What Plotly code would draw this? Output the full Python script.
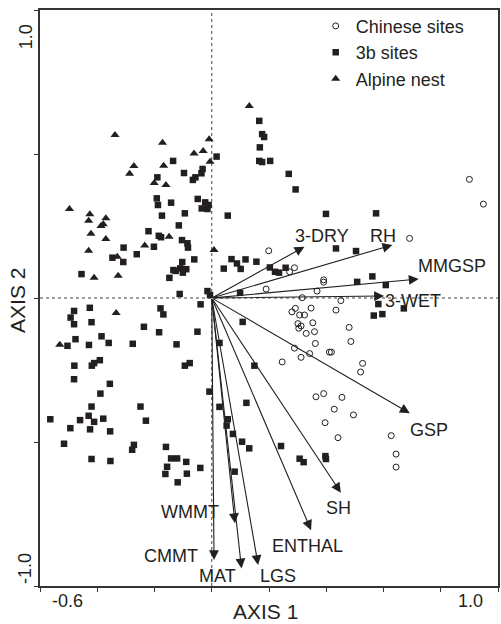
import plotly.graph_objects as go

# ---------------- data (ordination scores) ----------------
chinese_x = [0.949, 0.900, 0.691, 0.199, 0.289, 0.272, 0.391, 0.391, 0.190, 0.368,
             0.316, 0.451, 0.292, 0.280, 0.347, 0.434, 0.307, 0.324, 0.353, 0.301,
             0.312, 0.304, 0.330, 0.359, 0.480, 0.486, 0.362, 0.289, 0.342, 0.312,
             0.411, 0.418, 0.246, 0.527, 0.520, 0.364, 0.391, 0.455, 0.428, 0.495,
             0.396, 0.441, 0.627, 0.644, 0.644]
chinese_y = [0.326, 0.412, 0.207, 0.164, 0.105, 0.091, 0.063, 0.055, 0.031, 0.024,
             0.001, -0.009, -0.036, -0.048, -0.035, -0.042, -0.059, -0.059, -0.086, -0.089,
             -0.097, -0.105, -0.123, -0.117, -0.102, -0.151, -0.158, -0.174, -0.193, -0.206,
             -0.188, -0.188, -0.222, -0.227, -0.257, -0.343, -0.332, -0.345, -0.386, -0.406,
             -0.433, -0.485, -0.478, -0.542, -0.587]

sites3b_x = [0.017, -0.135, -0.097, -0.032, -0.036, -0.057, -0.066, -0.190, -0.192, -0.188,
             -0.142, -0.049, -0.023, -0.011, -0.035, -0.015, -0.174, -0.094, 0.056, 0.166,
             0.176, 0.183, 0.168, 0.166, 0.176, 0.204, 0.269, 0.293,
             -0.115, -0.221, -0.185, -0.177, -0.104, -0.085, -0.083, -0.202, -0.308, -0.262,
             -0.347, -0.309, -0.061, -0.103, -0.134, -0.126, -0.110, -0.089, -0.101, -0.148,
             -0.455, 0.069, 0.088, 0.101, 0.118, 0.042, -0.015, -0.006, -0.112, -0.039,
             -0.179, -0.169, -0.426, -0.481, -0.493, -0.481, -0.420, -0.237, -0.184, -0.050,
             0.108, -0.385, -0.476, -0.504, -0.429, -0.360, -0.276, -0.123, 0.027, -0.391,
             -0.411, -0.419, -0.480, -0.077, -0.094, -0.481, -0.356, -0.389, -0.008,
             0.399, 0.574, 0.434, 0.504, 0.156, 0.203, 0.221, 0.235, 0.258, 0.099,
             0.508, 0.561, 0.608, 0.582, 0.671, 0.566, 0.596, 0.149,
             0.027, 0.121, 0.056, 0.052, 0.074, 0.106, 0.131, 0.242, 0.307, 0.321,
             0.397, 0.399, -0.040, 0.080, -0.564, -0.494, -0.460, -0.430, -0.420, -0.411,
             -0.379, -0.425, -0.355, -0.249, -0.230, -0.516, -0.420, -0.354, -0.272, -0.278,
             -0.160, -0.142, -0.121, -0.089, -0.156, -0.162, -0.087, -0.119]
sites3b_y = [0.491, 0.476, 0.434, 0.448, 0.433, 0.419, 0.410, 0.419, 0.346, 0.323,
             0.331, 0.344, 0.332, 0.323, 0.311, 0.309, 0.286, 0.294, 0.286, 0.615,
             0.569, 0.559, 0.523, 0.476, 0.472, 0.476, 0.431, 0.377,
             0.252, 0.232, 0.216, 0.211, 0.201, 0.190, 0.175, 0.178, 0.175, 0.152,
             0.140, 0.125, 0.134, 0.125, 0.097, 0.094, 0.103, 0.100, 0.088, 0.070,
             0.083, 0.135, 0.120, 0.101, 0.134, 0.102, 0.024, 0.010, 0.014, -0.022,
             -0.036, -0.057, -0.034, -0.045, -0.068, -0.091, -0.084, -0.100, -0.119, -0.117,
             -0.083, -0.133, -0.143, -0.166, -0.163, -0.156, -0.159, -0.161, -0.156, -0.216,
             -0.226, -0.235, -0.235, -0.226, -0.235, -0.282, -0.298, -0.332, -0.325,
             0.292, 0.294, 0.172, 0.163, 0.126, 0.106, 0.091, 0.088, 0.105, 0.018,
             0.056, 0.075, 0.045, -0.021, -0.036, -0.061, -0.056, -0.235,
             -0.378, -0.364, -0.421, -0.443, -0.472, -0.499, -0.522, -0.514, -0.558, -0.570,
             -0.549, -0.559, -0.590, -0.603, -0.421, -0.452, -0.424, -0.409, -0.377, -0.430,
             -0.419, -0.456, -0.463, -0.377, -0.426, -0.506, -0.559, -0.566, -0.510, -0.527,
             -0.517, -0.557, -0.557, -0.569, -0.586, -0.611, -0.610, -0.640]

alpine_x = [-0.338, -0.172, -0.009, -0.030, -0.062, -0.006, -0.272, -0.287, -0.168, -0.201,
            -0.160, 0.131, -0.497, -0.426, -0.430, -0.370, -0.379, -0.387, -0.422, -0.370,
            -0.149, -0.234, -0.430, -0.330, 0.008, -0.411, -0.327, -0.334, -0.531]
alpine_y = [0.566, 0.539, 0.551, 0.510, 0.502, 0.473, 0.458, 0.431, 0.459, 0.399,
            0.392, 0.667, 0.309, 0.291, 0.268, 0.277, 0.256, 0.250, 0.223, 0.205,
            0.213, 0.182, 0.164, 0.143, 0.167, 0.070, 0.077, -0.052, -0.162]

env_names = ["3-DRY", "RH", "MMGSP", "3-WET", "GSP", "SH", "ENTHAL", "LGS", "MAT", "WMMT", "CMMT"]
env_x = [0.324, 0.631, 0.723, 0.602, 0.692, 0.451, 0.347, 0.162, 0.104, 0.081, 0.008]
env_y = [0.178, 0.184, 0.066, 0.007, -0.400, -0.676, -0.806, -0.927, -0.939, -0.782, -0.910]

x_range = [-0.6, 1.0]
y_range = [-1.0, 1.0]
x_ticks = [-0.6, -0.4, -0.2, 0.0, 0.2, 0.4, 0.6, 0.8, 1.0]
y_ticks = [-1.0, -0.5, 0.0, 0.5, 1.0]

# label placement for the environmental vectors (data units)
label_pos = {
    "3-DRY": (0.384, 0.215), "RH": (0.599, 0.215), "MMGSP": (0.839, 0.111),
    "3-WET": (0.704, -0.010), "GSP": (0.759, -0.458), "SH": (0.443, -0.729),
    "ENTHAL": (0.336, -0.861), "LGS": (0.232, -0.965), "MAT": (0.020, -0.965),
    "WMMT": (-0.077, -0.743), "CMMT": (-0.143, -0.896),
}

INK = "#231f20"
FONT = "Liberation Sans, Arial, sans-serif"

fig = go.Figure()

fig.add_trace(go.Scatter(
    x=chinese_x, y=chinese_y, mode="markers", name="Chinese sites",
    marker=dict(symbol="circle-open", size=6, color=INK, line=dict(width=1, color=INK)),
))
fig.add_trace(go.Scatter(
    x=sites3b_x, y=sites3b_y, mode="markers", name="3b sites",
    marker=dict(symbol="square", size=6.5, color=INK, line=dict(width=0)),
))
fig.add_trace(go.Scatter(
    x=alpine_x, y=alpine_y, mode="markers", name="Alpine nest",
    marker=dict(symbol="triangle-up", size=8, color=INK, line=dict(width=0)),
))

shapes = [
    dict(type="line", xref="x", yref="y", x0=0, x1=0, y0=y_range[0], y1=y_range[1],
         line=dict(color="#444444", width=1, dash="dot"), layer="below"),
    dict(type="line", xref="x", yref="y", x0=x_range[0], x1=x_range[1], y0=0, y1=0,
         line=dict(color="#444444", width=1, dash="dot"), layer="below"),
]

annotations = []
for name, ex, ey in zip(env_names, env_x, env_y):
    annotations.append(dict(
        x=ex, y=ey, ax=0, ay=0, xref="x", yref="y", axref="x", ayref="y",
        text="", showarrow=True, arrowhead=2, arrowsize=1.8, arrowwidth=1.1,
        arrowcolor=INK, standoff=0,
    ))
    lx, ly = label_pos[name]
    annotations.append(dict(
        x=lx, y=ly, xref="x", yref="y", text=name, showarrow=False,
        font=dict(family=FONT, size=18, color=INK), xanchor="center", yanchor="middle",
    ))

# axis end labels and titles
annotations += [
    dict(x=0.061, y=-0.026, xref="paper", yref="paper", text="-0.6", showarrow=False,
         font=dict(family=FONT, size=18, color=INK), xanchor="center", yanchor="middle"),
    dict(x=0.939, y=-0.026, xref="paper", yref="paper", text="1.0", showarrow=False,
         font=dict(family=FONT, size=18, color=INK), xanchor="center", yanchor="middle"),
    dict(x=-0.030, y=0.953, xref="paper", yref="paper", text="1.0", showarrow=False,
         textangle=-90, font=dict(family=FONT, size=18, color=INK),
         xanchor="center", yanchor="middle"),
    dict(x=-0.033, y=0.031, xref="paper", yref="paper", text="-1.0", showarrow=False,
         textangle=-90, font=dict(family=FONT, size=18, color=INK),
         xanchor="center", yanchor="middle"),
    dict(x=0.493, y=-0.045, xref="paper", yref="paper", text="AXIS 1", showarrow=False,
         font=dict(family=FONT, size=21, color=INK), xanchor="center", yanchor="middle"),
    dict(x=-0.048, y=0.495, xref="paper", yref="paper", text="AXIS 2", showarrow=False,
         textangle=-90, font=dict(family=FONT, size=21, color=INK),
         xanchor="center", yanchor="middle"),
]

fig.update_layout(
    width=501, height=624,
    margin=dict(l=40, r=1, t=10, b=38),
    paper_bgcolor="white", plot_bgcolor="white",
    font=dict(family=FONT, color=INK),
    shapes=shapes, annotations=annotations,
    legend=dict(
        x=0.602, y=1.004, xanchor="left", yanchor="top",
        bgcolor="rgba(0,0,0,0)", borderwidth=0,
        font=dict(family=FONT, size=18, color=INK),
        tracegroupgap=0,
    ),
    showlegend=True,
)

fig.update_xaxes(
    range=x_range, tickvals=x_ticks, showticklabels=False, ticks="outside",
    ticklen=4, tickwidth=1, tickcolor="#333333",
    showline=True, linecolor="#333333", linewidth=1.5, mirror=True,
    showgrid=False, zeroline=False,
)
fig.update_yaxes(
    range=y_range, tickvals=y_ticks, showticklabels=False, ticks="outside",
    ticklen=4, tickwidth=1, tickcolor="#333333",
    showline=True, linecolor="#333333", linewidth=1.5, mirror=True,
    showgrid=False, zeroline=False,
)

fig.write_html(
    "out.html",
    config={"displayModeBar": False},
    post_script="document.body.style.margin='0px';document.body.style.overflow='hidden';",
)
